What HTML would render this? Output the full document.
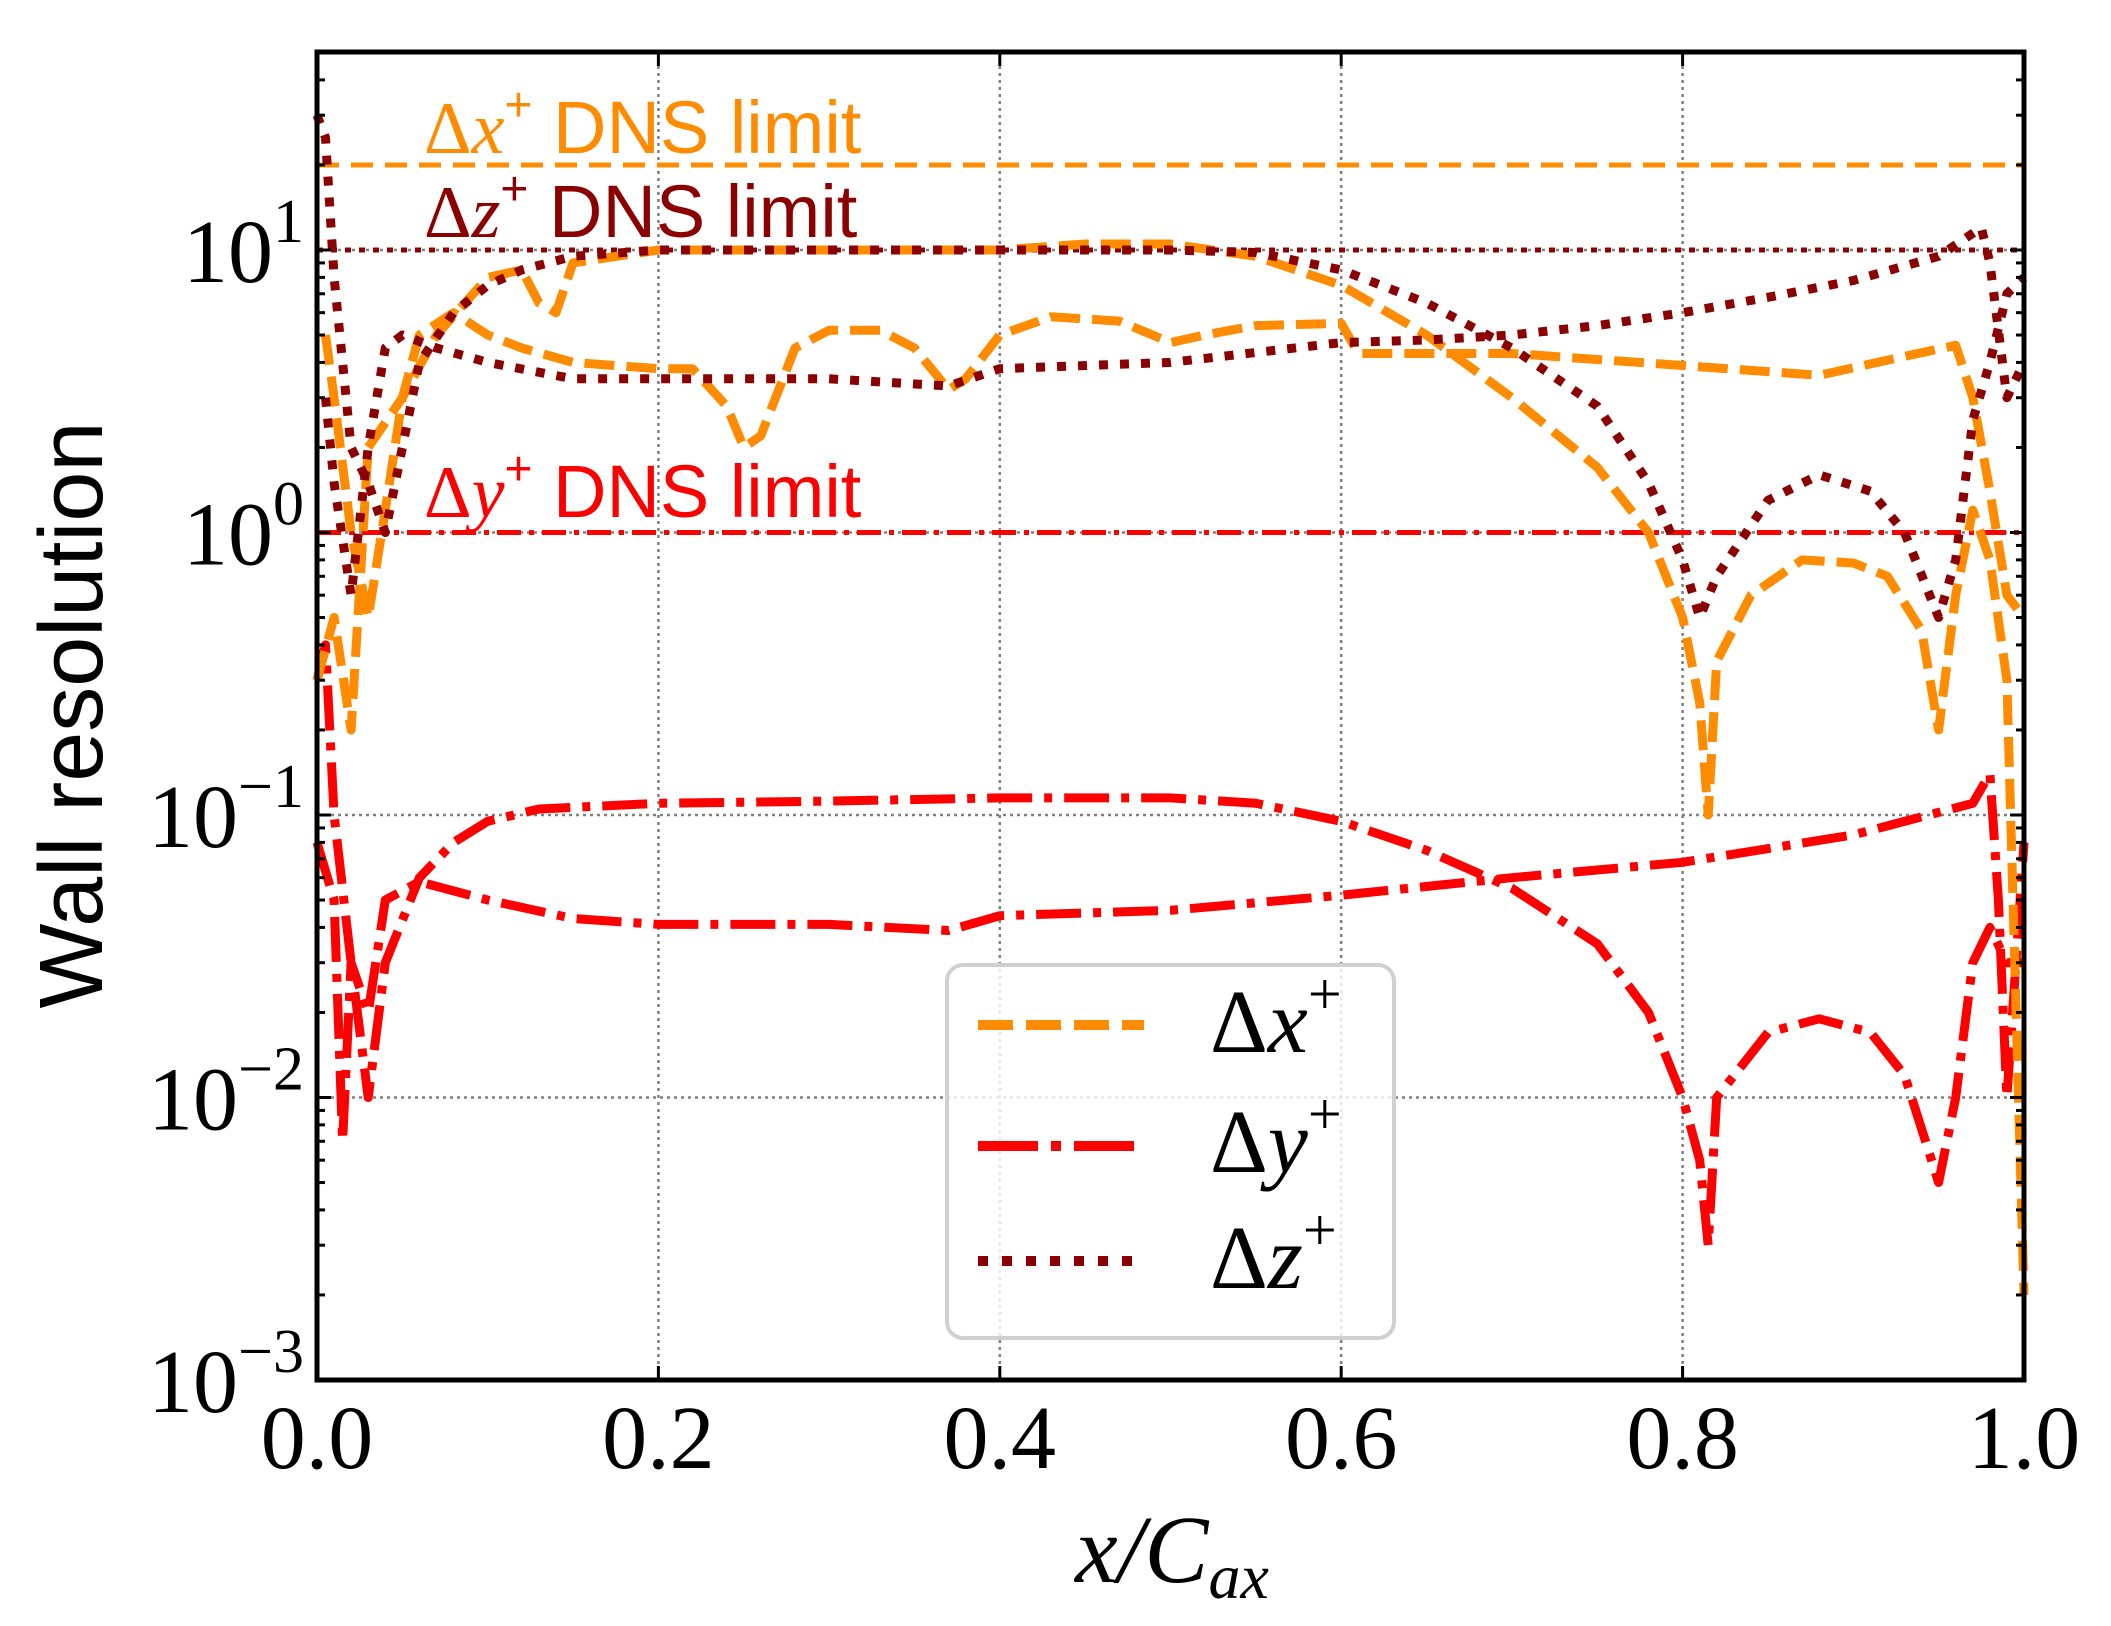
<!DOCTYPE html>
<html><head><meta charset="utf-8"><style>
html,body{margin:0;padding:0;background:#fff}
svg{display:block}
</style></head><body>
<svg id="chart" width="2111" height="1626" viewBox="0 0 2111 1626" xmlns="http://www.w3.org/2000/svg">
<rect width="2111" height="1626" fill="#fff"/>
<g id="grid"></g>
<g id="limits"></g>
<g id="series"></g>
<g id="axes"></g>
<g id="annot" font-family="Liberation Sans, sans-serif" font-size="74">
 <text x="424" y="153" fill="#ff8c00"><tspan font-family="Liberation Serif, serif">Δ</tspan><tspan font-family="Liberation Serif, serif" font-style="italic">x</tspan><tspan font-size="48" dy="-32">+</tspan><tspan dy="32"> DNS limit</tspan></text>
 <text x="424" y="237" fill="#8b0000"><tspan font-family="Liberation Serif, serif">Δ</tspan><tspan font-family="Liberation Serif, serif" font-style="italic">z</tspan><tspan font-size="48" dy="-32">+</tspan><tspan dy="32"> DNS limit</tspan></text>
 <text x="424" y="517" fill="#ff0000"><tspan font-family="Liberation Serif, serif">Δ</tspan><tspan font-family="Liberation Serif, serif" font-style="italic">y</tspan><tspan font-size="48" dy="-32">+</tspan><tspan dy="32"> DNS limit</tspan></text>
</g>
<g id="legend">
 <rect x="947" y="965" width="447" height="373" rx="16" fill="rgba(255,255,255,0.8)" stroke="#d0d0d0" stroke-width="4"/>
 <line x1="978" y1="1025" x2="1144" y2="1025" stroke="#ff8c00" stroke-width="10" stroke-dasharray="35 13"/>
 <line x1="978" y1="1146" x2="1144" y2="1146" stroke="#ff0000" stroke-width="10" stroke-dasharray="60 13 10 13"/>
 <line x1="978" y1="1261" x2="1144" y2="1261" stroke="#8b0000" stroke-width="10" stroke-dasharray="10 14"/>
 <g font-family="Liberation Serif, serif" font-size="90" fill="#000">
  <text x="1210" y="1052">Δ<tspan font-style="italic">x</tspan><tspan font-size="60" dy="-38">+</tspan></text>
  <text x="1210" y="1172">Δ<tspan font-style="italic">y</tspan><tspan font-size="60" dy="-38">+</tspan></text>
  <text x="1210" y="1288">Δ<tspan font-style="italic">z</tspan><tspan font-size="60" dy="-38">+</tspan></text>
 </g>
</g>
<text x="0" y="0" transform="translate(102,715) rotate(-90)" text-anchor="middle" font-family="Liberation Sans, sans-serif" font-size="90">Wall resolution</text>
<text x="1172" y="1582" text-anchor="middle" font-family="Liberation Serif, serif" font-size="96" font-style="italic">x/C<tspan font-size="64" dy="16">ax</tspan></text>
</svg>
<script>
const xTicks=[0,0.2,0.4,0.6,0.8,1.0];
const xTickLabels=["0.0","0.2","0.4","0.6","0.8","1.0"];
const yDecades=[-3,-2,-1,0,1];
const limitValues=[20,10,1];
const dxA_x=[0,0.01,0.02,0.03,0.05,0.07,0.1,0.12,0.13,0.14,0.15,0.2,0.3,0.4,0.45,0.5,0.55,0.6,0.65,0.7,0.75,0.78,0.8,0.81,0.815,0.82,0.84,0.87,0.9,0.92,0.94,0.95,0.96,0.97,0.98,0.99,1.0];
const dxA_y=[0.3,0.5,0.2,2,3,5,8,8.5,6.5,6,9,10,10,10,10.5,10.5,9.5,7.5,5,3,1.7,1,0.5,0.25,0.1,0.35,0.6,0.8,0.78,0.7,0.45,0.2,0.6,1.2,0.8,0.3,0.002];
const dxB_x=[0.005,0.01,0.02,0.03,0.04,0.05,0.06,0.08,0.1,0.12,0.15,0.2,0.22,0.24,0.25,0.26,0.28,0.3,0.33,0.35,0.37,0.38,0.4,0.43,0.47,0.5,0.52,0.55,0.6,0.61,0.7,0.8,0.88,0.93,0.96,0.97,0.98,0.99,1.0];
const dxB_y=[5,3,1,0.5,1.2,3,5,6,5,4.5,4,3.8,3.8,2.8,2,2.2,4.5,5.2,5.2,4.5,3.2,3.5,5,5.8,5.6,4.7,5,5.4,5.5,4.3,4.3,3.9,3.6,4.2,4.6,3,1.4,0.6,0.5];
const dzA_x=[0,0.005,0.01,0.02,0.03,0.04,0.05,0.06,0.08,0.1,0.12,0.15,0.2,0.3,0.4,0.5,0.55,0.6,0.65,0.7,0.75,0.78,0.8,0.81,0.82,0.85,0.88,0.91,0.93,0.95,0.96,0.97,0.98,0.99,1.0];
const dzA_y=[30,25,8,2,1.5,1,2,4,6,7.5,8.5,9.5,10,10,10,10,9.8,8.5,6.5,4.5,2.8,1.5,0.8,0.5,0.7,1.3,1.6,1.4,1,0.5,0.8,2.5,4,7,8];
const dzB_x=[0.005,0.01,0.02,0.03,0.04,0.05,0.07,0.1,0.15,0.2,0.3,0.37,0.4,0.5,0.6,0.65,0.7,0.75,0.8,0.85,0.9,0.95,0.975,0.98,0.99,1.0];
const dzB_y=[3,1.5,0.6,2,4.5,5,4.5,4,3.5,3.5,3.5,3.3,3.8,4,4.7,4.8,5,5.4,6,6.8,7.8,9.5,12,9,3,4];
const dyA_x=[0,0.005,0.01,0.02,0.03,0.04,0.06,0.08,0.1,0.13,0.2,0.3,0.4,0.5,0.55,0.6,0.65,0.7,0.75,0.78,0.8,0.81,0.815,0.82,0.85,0.88,0.91,0.93,0.95,0.96,0.97,0.98,0.99,1.0];
const dyA_y=[0.3,0.4,0.1,0.03,0.01,0.03,0.06,0.08,0.095,0.105,0.11,0.112,0.115,0.115,0.11,0.095,0.075,0.055,0.035,0.02,0.01,0.006,0.003,0.01,0.017,0.019,0.017,0.012,0.005,0.01,0.03,0.04,0.03,0.03];
const dyB_x=[0,0.01,0.015,0.02,0.03,0.04,0.06,0.1,0.15,0.2,0.3,0.37,0.4,0.5,0.6,0.7,0.8,0.9,0.97,0.98,0.985,0.99,1.0];
const dyB_y=[0.08,0.05,0.007,0.03,0.02,0.05,0.058,0.05,0.043,0.041,0.041,0.039,0.044,0.046,0.052,0.06,0.068,0.085,0.11,0.14,0.05,0.01,0.08];

const NS='http://www.w3.org/2000/svg';
const L=317,R=2024,T=52,B=1380;
const DEC=(B-250)/4;
function sx(v){return L+(R-L)*v;}
function sy(v){return B-(Math.log10(v)+3)*DEC;}
function mk(tag,attrs,parent){const e=document.createElementNS(NS,tag);for(const k in attrs)e.setAttribute(k,attrs[k]);parent.appendChild(e);return e;}
const grid=document.getElementById('grid'),axes=document.getElementById('axes'),series=document.getElementById('series'),limits=document.getElementById('limits');
xTicks.forEach(function(t){
  if(t>0&&t<1){const g=mk('line',{x1:sx(t),x2:sx(t),y1:T,y2:B,stroke:'#808080','stroke-width':2.5,'stroke-dasharray':'3 4'},grid);
  
  }
});
yDecades.forEach(function(d){
  if(d>-3){const g=mk('line',{x1:L,x2:R,y1:sy(Math.pow(10,d)),y2:sy(Math.pow(10,d)),stroke:'#808080','stroke-width':2.5,'stroke-dasharray':'3 4'},grid);
  
  }
});
const limStyles=[['#ff8c00','22 12','dx-dns-limit-line'],['#8b0000','6 8','dz-dns-limit-line'],['#ff0000','24 8 5 8','dy-dns-limit-line']];
limitValues.forEach(function(v,i){
  const l=mk('line',{x1:L,x2:R,y1:sy(v),y2:sy(v),stroke:limStyles[i][0],'stroke-width':5,'stroke-dasharray':limStyles[i][1]},limits);
  
  
});
function drawLine(xs,ys,color,dash,name){
  const d=xs.map(function(x,i){return (i?'L':'M')+sx(x).toFixed(1)+' '+sy(ys[i]).toFixed(1);}).join(' ');
  const p=mk('path',{d:d,fill:'none',stroke:color,'stroke-width':9,'stroke-dasharray':dash,'stroke-linejoin':'round'},series);
  
  
}
drawLine(dyA_x,dyA_y,'#ff0000','45 12 8 12','dy-series-side-a');
drawLine(dyB_x,dyB_y,'#ff0000','45 12 8 12','dy-series-side-b');
drawLine(dxA_x,dxA_y,'#ff8c00','30 12','dx-series-side-a');
drawLine(dxB_x,dxB_y,'#ff8c00','30 12','dx-series-side-b');
drawLine(dzA_x,dzA_y,'#8b0000','9 12','dz-series-side-a');
drawLine(dzB_x,dzB_y,'#8b0000','9 12','dz-series-side-b');
const fr=mk('rect',{x:L,y:T,width:R-L,height:B-T,fill:'none',stroke:'#000','stroke-width':5},axes);


xTicks.forEach(function(t,i){
  const x=sx(t);
  mk('line',{x1:x,x2:x,y1:B,y2:B-14,stroke:'#000','stroke-width':3},axes);
  mk('line',{x1:x,x2:x,y1:T,y2:T+14,stroke:'#000','stroke-width':3},axes);
  const tx=mk('text',{x:x,y:B+88,'text-anchor':'middle','font-family':'Liberation Serif, serif','font-size':90},axes);
  tx.textContent=xTickLabels[i];
  
  
});
for(let d=-3;d<=1;d++){
  for(let m=1;m<10;m++){
    const v=m*Math.pow(10,d);const y=sy(v);
    if(y<T)continue;
    const len=m===1?14:8;
    mk('line',{x1:L,x2:L+len,y1:y,y2:y,stroke:'#000','stroke-width':3},axes);
    mk('line',{x1:R,x2:R-len,y1:y,y2:y,stroke:'#000','stroke-width':3},axes);
  }
}
yDecades.forEach(function(d){
  const y=sy(Math.pow(10,d));
  const tx=mk('text',{x:304,y:y+32,'text-anchor':'end','font-family':'Liberation Serif, serif','font-size':90},axes);
  const a=mk('tspan',{},tx);a.textContent='10';
  const b=mk('tspan',{dy:-40,'font-size':62},tx);b.textContent=(d<0?'\u2212':'')+Math.abs(d);
  
  
});
</script>
</body></html>
